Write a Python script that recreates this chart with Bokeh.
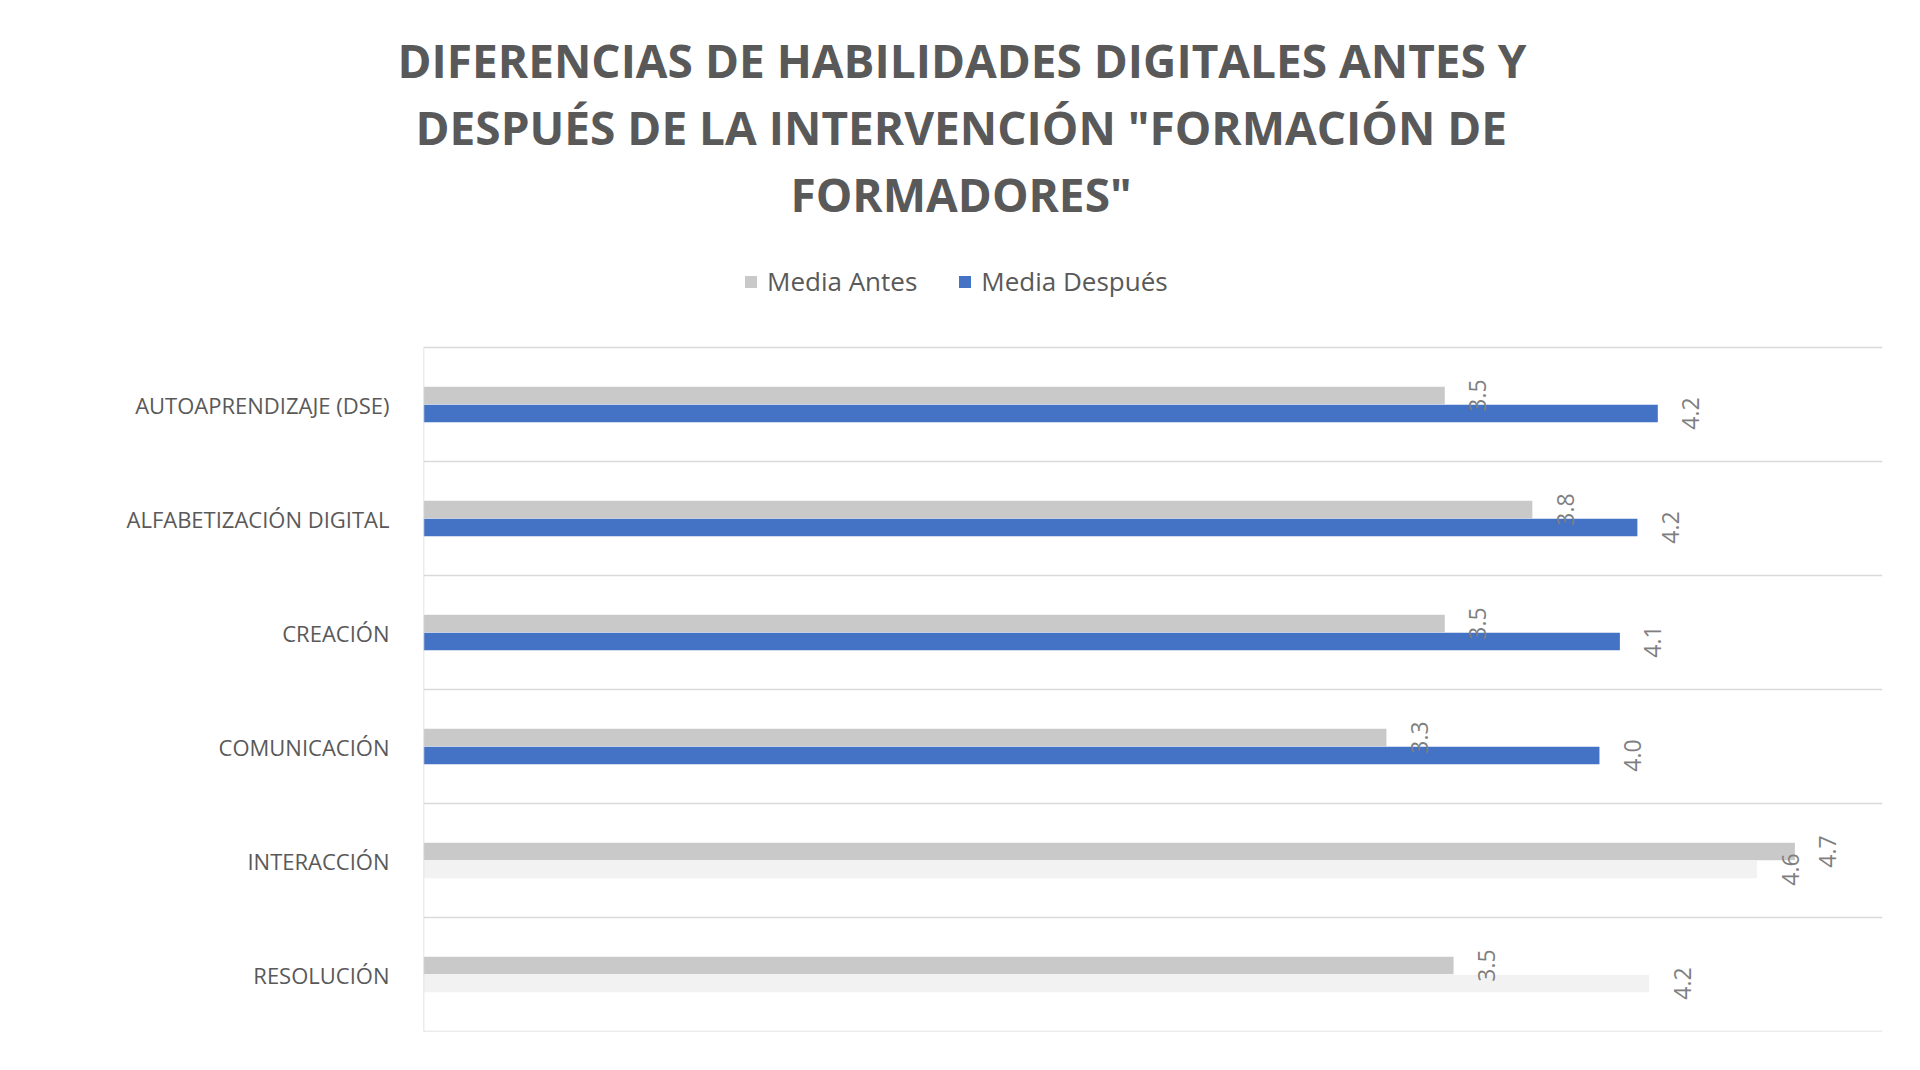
from math import pi
from bokeh.plotting import figure
from bokeh.models import (ColumnDataSource, Range1d, Span, Title, Legend,
                          LegendItem, FixedTicker)
from bokeh.core.properties import value
from bokeh.embed import file_html
from bokeh.resources import INLINE

# ---- data ----
categories = ["AUTOAPRENDIZAJE (DSE)", "ALFABETIZACIÓN DIGITAL", "CREACIÓN",
              "COMUNICACIÓN", "INTERACCIÓN", "RESOLUCIÓN"]
media_antes = [3.50, 3.80, 3.50, 3.30, 4.70, 3.53]
media_despues = [4.23, 4.16, 4.10, 4.03, 4.57, 4.20]
series_names = ["Media Antes", "Media Después"]
title_lines = ["DIFERENCIAS DE HABILIDADES DIGITALES ANTES Y",
               "DESPUÉS DE LA INTERVENCIÓN \"FORMACIÓN DE",
               "FORMADORES\""]

# ---- styles / layout ----
GRAY = "#C9C9C9"
BLUE = "#4472C4"
PALE = "#F2F2F2"
despues_colors = [BLUE, BLUE, BLUE, BLUE, PALE, PALE]
TXT = "#595959"
LBL = "#7F7F7F"
GRID = "#D9D9D9"
FONT = "Open Sans"
W, H = 1920, 1070
FRAME_TOP = 226          # frame also hosts the legend strip
PLOT_TOP = 347           # top of the category area
BOTTOM = 39
title_offsets = [-26, -8, 367]   # centre each title line on the page

n = len(categories)
unit_px = (H - BOTTOM - PLOT_TOP) / n
extra = (PLOT_TOP - FRAME_TOP) / unit_px

centers = [n - 0.5 - i for i in range(n)]
off = 0.079
bh = 0.154

src = ColumnDataSource(dict(
    yc=centers,
    ya=[c + off for c in centers],
    yd=[c - off for c in centers],
    antes=media_antes,
    despues=media_despues,
    antes_lbl=[f"{v:.1f}" for v in media_antes],
    despues_lbl=[f"{v:.1f}" for v in media_despues],
    dcol=despues_colors,
))

p = figure(width=W, height=H, output_backend="svg", toolbar_location=None,
           x_range=Range1d(0, 5), y_range=Range1d(0, n + extra),
           min_border_left=423, min_border_right=38, min_border_bottom=BOTTOM,
           min_border_top=FRAME_TOP)
p.background_fill_color = "white"
p.border_fill_color = "white"
p.outline_line_color = None

r_antes = p.hbar(y="ya", right="antes", left=0, height=bh, source=src,
                 fill_color=GRAY, line_color=None)
r_desp = p.hbar(y="yd", right="despues", left=0, height=bh, source=src,
                fill_color="dcol", line_color=None)

p.text(x="antes", y="ya", text="antes_lbl", source=src, angle=pi / 2,
       x_offset=33, text_align="center", text_baseline="middle",
       text_font=value(FONT), text_font_size="23px", text_color=LBL)
p.text(x="despues", y="yd", text="despues_lbl", source=src, angle=pi / 2,
       x_offset=33, text_align="center", text_baseline="middle",
       text_font=value(FONT), text_font_size="23px", text_color=LBL)

# category separators and left border of the plot area
for k in range(n + 1):
    p.add_layout(Span(location=k, dimension="width", line_color=GRID,
                      line_width=1.5))
p.segment(x0=[0], y0=[0], x1=[0], y1=[n], line_color=GRID, line_width=1.5)

p.xaxis.visible = False
p.xgrid.visible = False
p.ygrid.visible = False
ax = p.yaxis[0]
ax.ticker = FixedTicker(ticks=centers)
ax.major_label_overrides = {c: name for c, name in zip(centers, categories)}
ax.axis_line_color = None
ax.major_tick_line_color = None
ax.minor_tick_line_color = None
ax.major_label_standoff = 28
ax.major_label_text_font = FONT
ax.major_label_text_font_size = "22px"
ax.major_label_text_color = TXT

legend = Legend(items=[LegendItem(label=series_names[0], renderers=[r_antes], index=0),
                       LegendItem(label=series_names[1], renderers=[r_desp], index=0)],
                orientation="horizontal", location=(320, 732),
                label_text_font=FONT, label_text_font_size="26px",
                label_text_color=TXT, glyph_width=15, glyph_height=15,
                label_standoff=9, spacing=40, padding=5, margin=0,
                border_line_color=None, background_fill_alpha=0)
p.add_layout(legend, "center")

for line, offs in reversed(list(zip(title_lines, title_offsets))):
    p.add_layout(Title(text=line, align="left", offset=offs, text_font=FONT,
                       text_font_size="46px", text_font_style="bold",
                       text_color=TXT, standoff=3), "above")

open("out.html", "w").write(file_html(p, INLINE))
